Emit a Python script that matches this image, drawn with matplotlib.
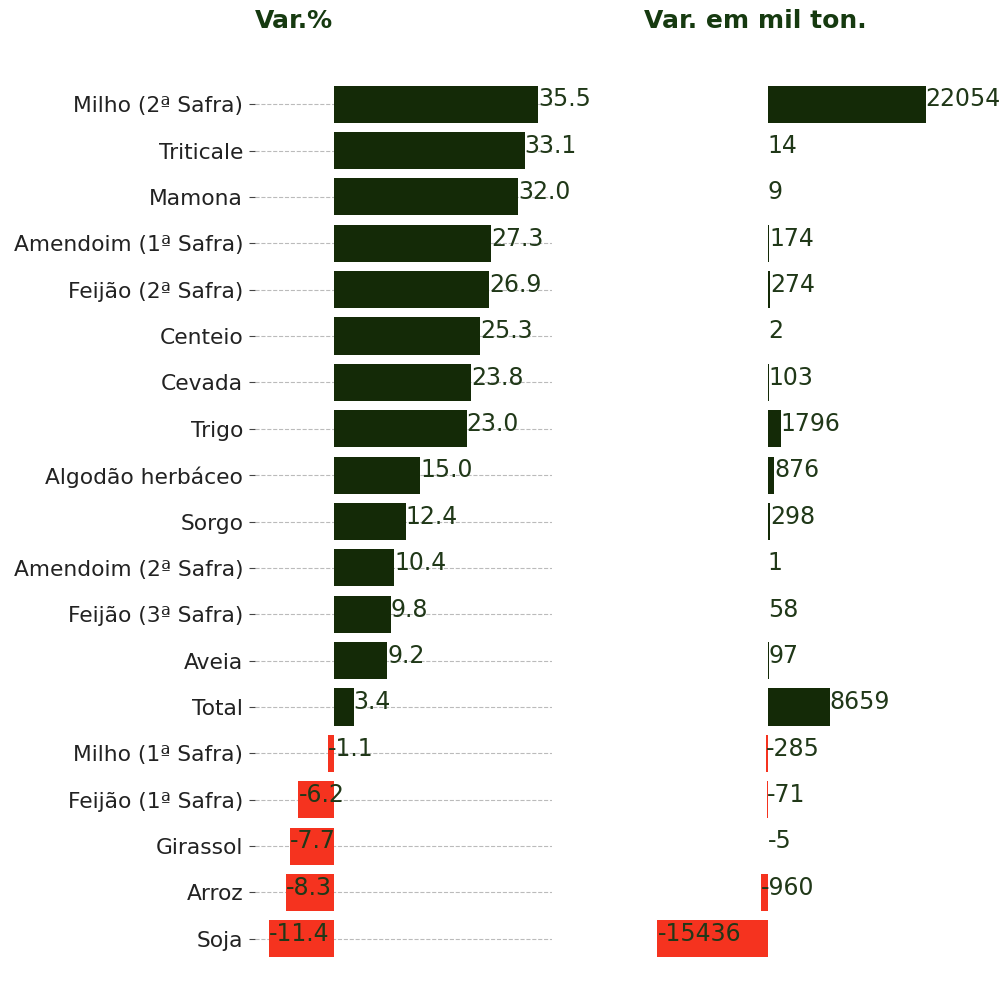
import matplotlib
matplotlib.use("Agg")
import matplotlib.pyplot as plt

DARK_GREEN = "#142a07"
RED = "#f5331f"
TEXT_GREEN = "#203818"
TITLE_GREEN = "#163a10"

culturas = [
    "Milho (2ª Safra)", "Triticale", "Mamona", "Amendoim (1ª Safra)",
    "Feijão (2ª Safra)", "Centeio", "Cevada", "Trigo", "Algodão herbáceo",
    "Sorgo", "Amendoim (2ª Safra)", "Feijão (3ª Safra)", "Aveia", "Total",
    "Milho (1ª Safra)", "Feijão (1ª Safra)", "Girassol", "Arroz", "Soja",
]
var_pct = [35.5, 33.1, 32.0, 27.3, 26.9, 25.3, 23.8, 23.0, 15.0, 12.4,
           10.4, 9.8, 9.2, 3.4, -1.1, -6.2, -7.7, -8.3, -11.4]
var_ton = [22054, 14, 9, 174, 274, 2, 103, 1796, 876, 298,
           1, 58, 97, 8659, -285, -71, -5, -960, -15436]


def main():
    fig = plt.figure(figsize=(10.06, 10.01), dpi=100)
    W, H = 1006, 1001
    ax1 = fig.add_axes([255 / W, 0.0, (552 - 255) / W, 1 - 42 / H])
    ax2 = fig.add_axes([644 / W, 0.0, (939 - 644) / W, 1 - 42 / H])

    n = len(culturas)
    ypos = list(range(n))
    ylim = (n - 1 + 1.34, -1.34)

    # left panel: percent change
    cols1 = [DARK_GREEN if v >= 0 else RED for v in var_pct]
    ax1.barh(ypos, var_pct, height=0.8, color=cols1, zorder=2)
    for y, v in zip(ypos, var_pct):
        ax1.text(v, y + 0.05, f"{v:.1f}", ha="left", va="baseline",
                 fontsize=17, color=TEXT_GREEN, zorder=3)
    ax1.set_xlim(-13.75, 37.85)
    ax1.set_ylim(*ylim)
    ax1.set_yticks(ypos)
    ax1.set_yticklabels(culturas, fontsize=15.7, color="#222222")
    ax1.set_xticks([])
    ax1.tick_params(axis="y", length=4, color="#444444", pad=4.5)
    ax1.grid(axis="y", linestyle="--", color="#bbbbbb", linewidth=0.8, zorder=0)
    for s in ax1.spines.values():
        s.set_visible(False)
    ax1.set_title("Var.%", loc="left", fontsize=18, fontweight="bold",
                  color=TITLE_GREEN, pad=10)

    # right panel: change in thousand tonnes
    cols2 = [DARK_GREEN if v >= 0 else RED for v in var_ton]
    ax2.barh(ypos, var_ton, height=0.8, color=cols2, zorder=2)
    for y, v in zip(ypos, var_ton):
        ax2.text(v, y + 0.05, f"{v}", ha="left", va="baseline",
                 fontsize=17, color=TEXT_GREEN, zorder=3)
    ax2.set_xlim(-17310, 23928)
    ax2.set_ylim(*ylim)
    ax2.set_xticks([])
    ax2.set_yticks([])
    for s in ax2.spines.values():
        s.set_visible(False)
    ax2.set_title("Var. em mil ton.", loc="left", fontsize=18,
                  fontweight="bold", color=TITLE_GREEN, pad=10)

    fig.savefig("out.png", dpi=100, facecolor="white")
    plt.close(fig)


if __name__ == "__main__":
    main()
